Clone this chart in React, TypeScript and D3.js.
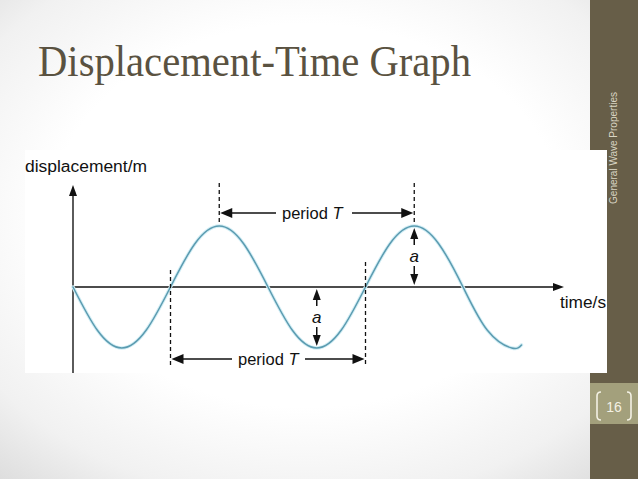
import React from "react";
import * as d3 from "d3";

// Wave samples (time in periods T, displacement in amplitudes a)
const timeT = [0, 0.125, 0.25, 0.375, 0.5, 0.625, 0.75, 0.875, 1, 1.125, 1.25, 1.375, 1.5, 1.625, 1.75, 1.875, 2, 2.125, 2.25, 2.3];
const displacement = [0, -0.71, -1, -0.71, 0, 0.71, 1, 0.71, 0, -0.71, -1, -0.71, 0, 0.71, 1, 0.71, 0, -0.71, -1, -0.95];

// Annotation anchors (in periods)
const peakTimes = [0.75, 1.75];
const crossTimes = [0.5, 1.5];
const amplitudeTimes = [1.75, 1.25];

const titleText = "Displacement-Time Graph";
const yLabel = "displacement/m";
const xLabel = "time/s";
const periodLabel = "period ";
const sideText = "General Wave Properties";
const pageNum = "16";

const W = 638;
const H = 479;

function arrowHead(x: number, y: number, dir: "l" | "r" | "u" | "d", len = 9, half = 4) {
  let pts: [number, number][] = [];
  if (dir === "r") pts = [[x, y], [x - len, y - half], [x - len, y + half]];
  if (dir === "l") pts = [[x, y], [x + len, y - half], [x + len, y + half]];
  if (dir === "u") pts = [[x, y], [x - half, y + len], [x + half, y + len]];
  if (dir === "d") pts = [[x, y], [x - half, y - len], [x + half, y - len]];
  return <polygon points={pts.map((p) => p.join(",")).join(" ")} fill="#111" />;
}

export default function App() {
  const x = d3.scaleLinear().domain([0, 2]).range([73, 463]);
  const y = d3.scaleLinear().domain([-1, 1]).range([348, 226]);
  const data = timeT.map((t, i) => [t, displacement[i]] as [number, number]);
  const line = d3
    .line<[number, number]>()
    .x((d) => x(d[0]))
    .y((d) => y(d[1]))
    .curve(d3.curveNatural);

  const axisY = y(0);
  const topArrowY = 213;
  const botArrowY = 359;
  const font = "'Liberation Sans', Arial, sans-serif";

  const px0 = x(peakTimes[0]);
  const px1 = x(peakTimes[1]);
  const cx0 = x(crossTimes[0]);
  const cx1 = x(crossTimes[1]);
  const ax0 = x(amplitudeTimes[0]);
  const ax1 = x(amplitudeTimes[1]);

  return (
    <svg width={W} height={H} style={{ position: "absolute", left: 0, top: 0, display: "block" }}>
      <defs>
        <radialGradient id="bg" cx="0.48" cy="0.45" r="0.8">
          <stop offset="0" stopColor="#ffffff" />
          <stop offset="0.5" stopColor="#ffffff" />
          <stop offset="0.75" stopColor="#f1f1f1" />
          <stop offset="1" stopColor="#d3d3d3" />
        </radialGradient>
      </defs>
      <rect x={0} y={0} width={W} height={H} fill="url(#bg)" />

      {/* sidebar */}
      <rect x={590} y={0} width={48} height={H} fill="#675e48" />
      <rect x={590} y={383} width={48} height={41} fill="#a3a07c" />
      <text
        transform={`translate(617,148) rotate(-90)`}
        textAnchor="middle"
        fontFamily={font}
        fontSize={10}
        fill="#d9d5c3"
      >
        {sideText}
      </text>
      <path d="M601,392 Q597,392 597,396 L597,416 Q597,420 601,420" fill="none" stroke="#f3f1e4" strokeWidth={1.6} />
      <path d="M627,392 Q631,392 631,396 L631,416 Q631,420 627,420" fill="none" stroke="#f3f1e4" strokeWidth={1.6} />
      <text x={614} y={412} textAnchor="middle" fontFamily={font} fontSize={14} fill="#f3f1e4">
        {pageNum}
      </text>

      {/* title */}
      <text x={38} y={76} fontFamily="'Liberation Serif', 'Times New Roman', serif" fontSize={44} fill="#5a5241" textLength={433} lengthAdjust="spacingAndGlyphs">
        {titleText}
      </text>

      {/* graph panel */}
      <rect x={25} y={150} width={582} height={223} fill="#ffffff" />

      {/* axis labels */}
      <text x={25} y={172} fontFamily={font} fontSize={16} fill="#111" textLength={122} lengthAdjust="spacingAndGlyphs">
        {yLabel}
      </text>
      <text x={560} y={308} fontFamily={font} fontSize={16} fill="#111" textLength={46} lengthAdjust="spacingAndGlyphs">
        {xLabel}
      </text>

      {/* axes */}
      <line x1={x(0)} y1={190} x2={x(0)} y2={373} stroke="#333" strokeWidth={1.6} />
      {arrowHead(x(0), 185, "u", 11, 4)}
      <line x1={x(0)} y1={axisY} x2={557} y2={axisY} stroke="#111" strokeWidth={1.6} />
      {arrowHead(564, axisY, "r", 11, 4)}

      {/* wave */}
      <path d={line(data) || ""} fill="none" stroke="#d3eef5" strokeWidth={3.5} strokeLinecap="round" />
      <path d={line(data) || ""} fill="none" stroke="#5b9bb0" strokeWidth={1.5} strokeLinecap="round" />

      {/* dashed guides */}
      {[px0, px1].map((px, i) => (
        <line key={"pd" + i} x1={px} y1={183} x2={px} y2={y(1) - 2} stroke="#111" strokeWidth={1.3} strokeDasharray="4,3" />
      ))}
      <line x1={cx0} y1={270} x2={cx0} y2={365} stroke="#111" strokeWidth={1.3} strokeDasharray="4,3" />
      <line x1={cx1} y1={262} x2={cx1} y2={364} stroke="#111" strokeWidth={1.3} strokeDasharray="4,3" />

      {/* top period arrow */}
      <line x1={px0 + 8} y1={topArrowY} x2={276} y2={topArrowY} stroke="#111" strokeWidth={1.5} />
      {arrowHead(px0 + 1, topArrowY, "l", 12, 5)}
      <line x1={352} y1={topArrowY} x2={px1 - 8} y2={topArrowY} stroke="#111" strokeWidth={1.5} />
      {arrowHead(px1 - 1, topArrowY, "r", 12, 5)}
      <text x={282} y={topArrowY + 6} fontFamily={font} fontSize={16.5} fill="#111">
        {periodLabel}
        <tspan fontStyle="italic">T</tspan>
      </text>

      {/* bottom period arrow */}
      <line x1={cx0 + 8} y1={botArrowY} x2={232} y2={botArrowY} stroke="#111" strokeWidth={1.5} />
      {arrowHead(cx0 + 1, botArrowY, "l", 12, 5)}
      <line x1={305} y1={botArrowY} x2={cx1 - 8} y2={botArrowY} stroke="#111" strokeWidth={1.5} />
      {arrowHead(cx1 - 1, botArrowY, "r", 12, 5)}
      <text x={238} y={botArrowY + 6} fontFamily={font} fontSize={16.5} fill="#111">
        {periodLabel}
        <tspan fontStyle="italic">T</tspan>
      </text>

      {/* amplitude arrows */}
      <line x1={ax0} y1={y(1) + 10} x2={ax0} y2={245} stroke="#111" strokeWidth={1.5} />
      {arrowHead(ax0, y(1) + 2, "u", 11, 4)}
      <text x={ax0} y={262} textAnchor="middle" fontFamily={font} fontSize={17} fontStyle="italic" fill="#111">a</text>
      <line x1={ax0} y1={266} x2={ax0} y2={axisY - 9} stroke="#111" strokeWidth={1.5} />
      {arrowHead(ax0, axisY - 2, "d", 11, 4)}

      <line x1={ax1} y1={axisY + 10} x2={ax1} y2={306} stroke="#111" strokeWidth={1.5} />
      {arrowHead(ax1, axisY + 2, "u", 11, 4)}
      <text x={ax1} y={323} textAnchor="middle" fontFamily={font} fontSize={17} fontStyle="italic" fill="#111">a</text>
      <line x1={ax1} y1={327} x2={ax1} y2={y(-1) - 10} stroke="#111" strokeWidth={1.5} />
      {arrowHead(ax1, y(-1) - 2, "d", 11, 4)}
    </svg>
  );
}
